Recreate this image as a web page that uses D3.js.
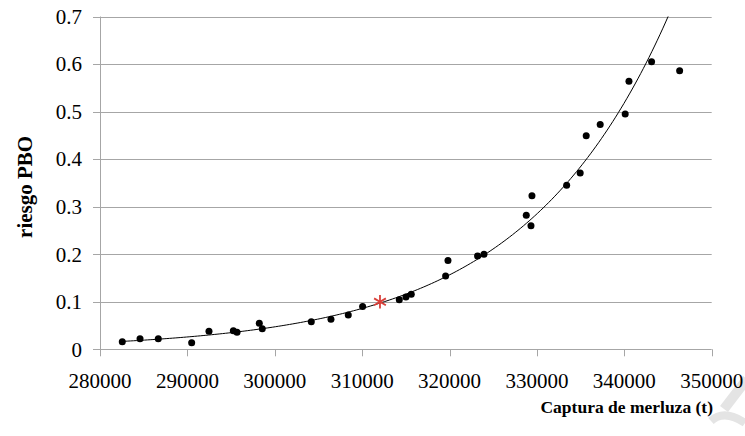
<!DOCTYPE html>
<html>
<head>
<meta charset="utf-8">
<script src="https://cdn.jsdelivr.net/npm/d3@7"></script>
<style>
  body { margin: 0; background: #fff; }
  svg text { font-family: "Liberation Serif", "DejaVu Serif", serif; fill: #000; }
</style>
</head>
<body>
<div id="chart"></div>
<script>
// catch (t) and PBO risk
let capturas = [282550, 284580, 286670, 290490, 292470, 295260, 295680, 298230, 298570,
    304180, 306430, 308410, 310050, 314250, 315010, 315620, 319550, 319820, 323210,
    323940, 328780, 329320, 329430, 333400, 334950, 335640, 337240, 340100, 340530,
    343120, 346330];
let riesgos = [0.016, 0.022, 0.022, 0.014, 0.038, 0.039, 0.036, 0.055, 0.043,
    0.058, 0.063, 0.072, 0.090, 0.104, 0.110, 0.116, 0.154, 0.187, 0.196,
    0.200, 0.282, 0.260, 0.323, 0.345, 0.371, 0.449, 0.473, 0.495, 0.564,
    0.605, 0.586];
// red marker
let puntoRef = [312040, 0.100];

let xTicks = [280000, 290000, 300000, 310000, 320000, 330000, 340000, 350000];
let yTicks = [0, 0.1, 0.2, 0.3, 0.4, 0.5, 0.6, 0.7];

let width = 745;
let height = 436;
let margin = { top: 16.5, right: 33.3, bottom: 86.7, left: 100 };
let serif = "'Liberation Serif', 'DejaVu Serif', serif";

let svg = d3.select("#chart")
    .append("svg")
    .attr("width", width)
    .attr("height", height)
    .attr("font-family", serif);

// faint watermark fragment in the bottom right corner
svg.append("path")
    .attr("d", "M747,379 L724,409")
    .attr("stroke", "#e4e4e4")
    .attr("stroke-width", 10)
    .attr("fill", "none");
svg.append("path")
    .attr("d", "M711,421 Q724,409 745,423")
    .attr("stroke", "#e4e4e4")
    .attr("stroke-width", 8)
    .attr("fill", "none");

let x = d3.scaleLinear()
    .domain([280000, 350000])
    .range([margin.left, width - margin.right]);

let y = d3.scaleLinear()
    .domain([0, 0.7])
    .range([height - margin.bottom, margin.top]);

// horizontal grid lines (with small tick to the left)
svg.append("g")
    .selectAll("line")
    .data(yTicks)
    .enter()
    .append("line")
    .attr("x1", margin.left - 7)
    .attr("x2", width - margin.right)
    .attr("y1", d => Math.round(y(d)) + 0.5)
    .attr("y2", d => Math.round(y(d)) + 0.5)
    .attr("stroke", "#a6a6a6")
    .attr("stroke-width", 1);

// y axis line
svg.append("line")
    .attr("x1", margin.left + 0.5)
    .attr("x2", margin.left + 0.5)
    .attr("y1", y(0.7))
    .attr("y2", y(0))
    .attr("stroke", "#a6a6a6");

// x axis ticks
svg.append("g")
    .selectAll("line")
    .data(xTicks)
    .enter()
    .append("line")
    .attr("x1", d => Math.round(x(d)) + 0.5)
    .attr("x2", d => Math.round(x(d)) + 0.5)
    .attr("y1", y(0))
    .attr("y2", y(0) + 7)
    .attr("stroke", "#a6a6a6");

// tick labels
svg.append("g")
    .selectAll("text")
    .data(yTicks)
    .enter()
    .append("text")
    .attr("x", 82)
    .attr("y", d => y(d))
    .attr("dy", "0.35em")
    .attr("text-anchor", "end")
    .attr("font-family", serif)
    .attr("font-size", 21)
    .text(d => d === 0 ? "0" : d3.format(".1f")(d));

svg.append("g")
    .selectAll("text")
    .data(xTicks)
    .enter()
    .append("text")
    .attr("x", d => x(d))
    .attr("y", 388)
    .attr("text-anchor", "middle")
    .attr("font-family", serif)
    .attr("font-size", 21)
    .text(d => d);

// axis titles
svg.append("text")
    .attr("transform", "translate(32," + ((margin.top + height - margin.bottom) / 2 + 4) + ") rotate(-90)")
    .attr("text-anchor", "middle")
    .attr("font-family", serif)
    .attr("font-size", 21)
    .attr("font-weight", "bold")
    .text("riesgo PBO");

svg.append("text")
    .attr("x", 713)
    .attr("y", 413)
    .attr("text-anchor", "end")
    .attr("font-family", serif)
    .attr("font-size", 17.5)
    .attr("font-weight", "bold")
    .text("Captura de merluza (t)");

// exponential trend line: least squares on ln(y)
let mx = d3.mean(capturas);
let ly = riesgos.map(v => Math.log(v));
let my = d3.mean(ly);
let sxy = d3.sum(capturas, (v, i) => (v - mx) * (ly[i] - my));
let sxx = d3.sum(capturas, v => (v - mx) * (v - mx));
let b = sxy / sxx;
let a = Math.exp(my - b * mx);

let xs = d3.range(0, 201).map(i => d3.min(capturas) + i * (d3.max(capturas) - d3.min(capturas)) / 200);

svg.append("clipPath")
    .attr("id", "plot-clip")
    .append("rect")
    .attr("x", margin.left)
    .attr("y", margin.top)
    .attr("width", width - margin.left - margin.right)
    .attr("height", height - margin.top - margin.bottom);

let line = d3.line()
    .x(d => x(d))
    .y(d => y(a * Math.exp(b * d)))
    .curve(d3.curveMonotoneX);

svg.append("path")
    .attr("clip-path", "url(#plot-clip)")
    .attr("d", line(xs))
    .attr("fill", "none")
    .attr("stroke", "#000")
    .attr("stroke-width", 1);

// data points
svg.append("g")
    .selectAll("circle")
    .data(capturas)
    .enter()
    .append("circle")
    .attr("cx", d => x(d))
    .attr("cy", (d, i) => y(riesgos[i]))
    .attr("r", 3.5)
    .attr("fill", "#000");

// reference point
svg.append("path")
    .attr("transform", "translate(" + x(puntoRef[0]) + "," + y(puntoRef[1]) + ")")
    .attr("d", d3.symbol(d3.symbolAsterisk, 130)())
    .attr("fill", "none")
    .attr("stroke", "#d9403a")
    .attr("stroke-width", 1.8);
</script>
</body>
</html>
